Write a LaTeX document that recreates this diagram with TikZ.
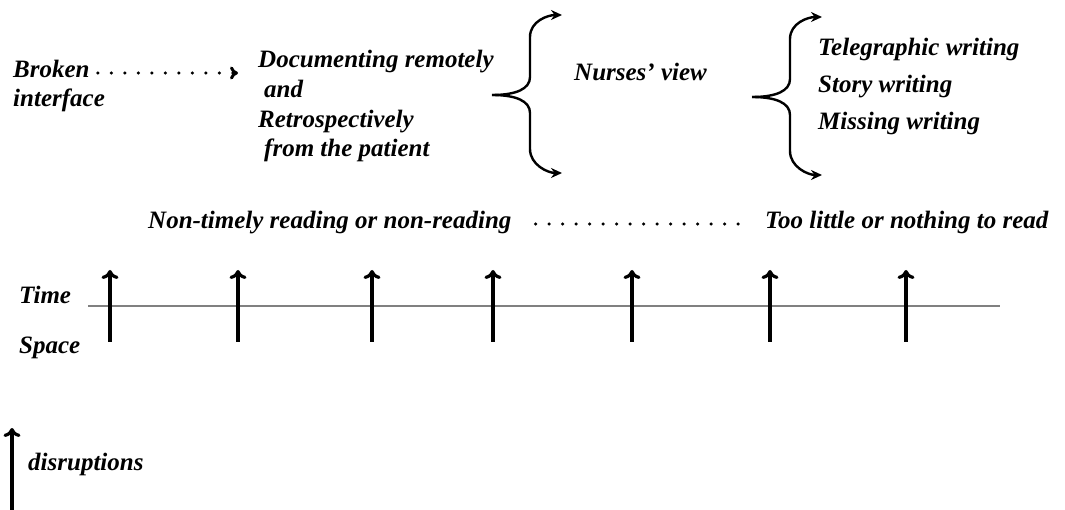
\documentclass[tikz,border=0pt]{standalone}
\usepackage{fontspec}
\setmainfont{Liberation Serif}
\usetikzlibrary{arrows.meta}
\tikzstyle{txt_lbl}=[anchor=base west,inner sep=0pt,font=\fontsize{25}{29}\selectfont\bfseries\itshape]
\tikzstyle{dot_line}=[line width=3.4pt,line cap=round,dash pattern=on 0pt off 13.5pt]
\tikzstyle{dot_arr}=[dot_line,-{To[length=8pt,width=13pt,line width=3pt]}]
\tikzstyle{brace_arr}=[line width=2.4pt,-{Stealth[length=11pt,width=10pt]}]
\tikzstyle{dis_arr}=[line width=3.2pt,-{To[length=9pt,width=17pt]}]

\begin{document}
\begin{tikzpicture}[x=1pt,y=-1pt]
\useasboundingbox (0,0) rectangle (1065,510);
% first row
\node[txt_lbl] (broken) at (13,78) {Broken};
\node[txt_lbl] (iface) at (13,107) {interface};
\node[txt_lbl] (doc1) at (258,68) {Documenting remotely};
\node[txt_lbl] (doc2) at (264,98) {and};
\node[txt_lbl] (doc3) at (258,128) {Retrospectively};
\node[txt_lbl] (doc4) at (264,157) {from the patient};
\node[txt_lbl] (nurse) at (574,81) {Nurses' view};
\node[txt_lbl] (tele) at (818,56) {Telegraphic writing};
\node[txt_lbl] (story) at (818,93) {Story writing};
\node[txt_lbl] (miss) at (818,130) {Missing writing};
\coordinate (doc_in) at (238,73);
\draw[dot_arr] ([xshift=8pt,yshift=5pt]broken.base east) -- (doc_in);
% braces
\coordinate (cusp1) at (492,95);
\coordinate (cusp2) at (752,97);
\foreach \c in {cusp1,cusp2}{
  \draw[brace_arr] (\c) .. controls +(24,0) and +(0,12) .. ++(38,-18) -- ++(0,-40)
    .. controls +(0,-16) and +(-14,0) .. ++(32,-22);
  \draw[brace_arr] (\c) .. controls +(24,0) and +(0,-12) .. ++(38,18) -- ++(0,36)
    .. controls +(0,16) and +(-14,0) .. ++(32,24);
}
% second row
\node[txt_lbl] (nonread) at (148,229) {Non-timely reading or non-reading};
\node[txt_lbl] (little) at (765,229) {Too little or nothing to read};
\draw[dot_line,shorten <=24pt,shorten >=14pt] ([yshift=5pt]nonread.base east) -- ([yshift=5pt]little.base west);
% time line
\node[txt_lbl] (time) at (19,304) {Time};
\node[txt_lbl] (space) at (19,353) {Space};
\draw[gray,line width=2.4pt] (88,306) -- (1000,306);
\foreach \x in {110,238,372,493,632,770,906}
  \draw[dis_arr] (\x,342) -- (\x,270);
% legend
\coordinate (leg) at (12,510);
\draw[dis_arr] (leg) -- ++(0,-82);
\node[txt_lbl] (disr) at (28,470) {disruptions};
\end{tikzpicture}
\end{document}
